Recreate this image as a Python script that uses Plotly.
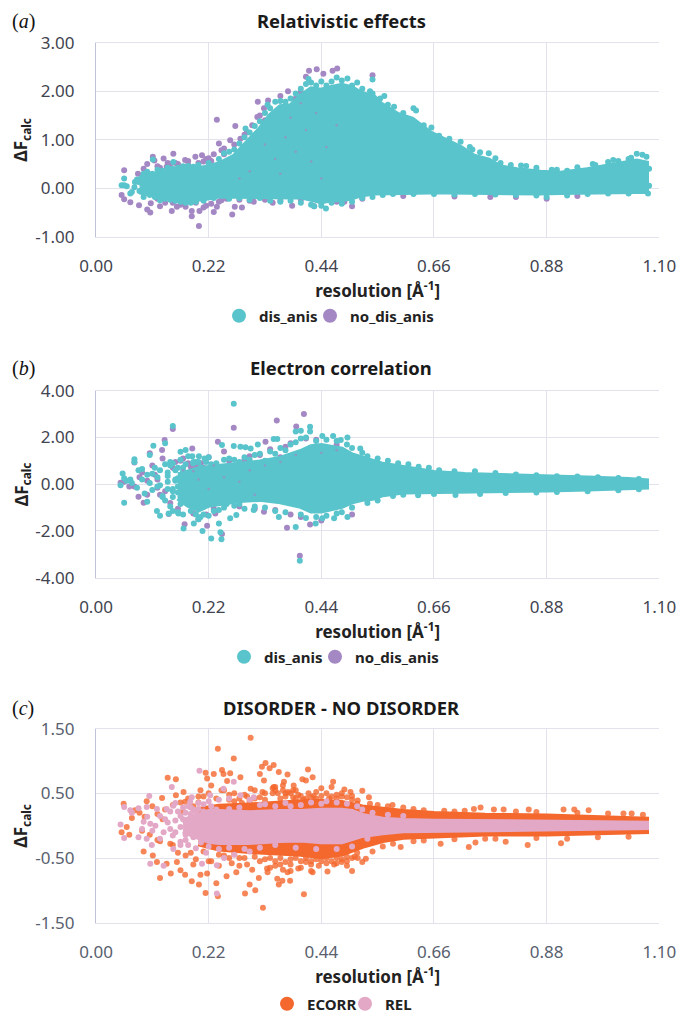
import plotly.graph_objects as go

# ---------- shared ----------
X_TICKS = [0.00, 0.22, 0.44, 0.66, 0.88, 1.10]
TEAL, PURPLE, ORANGE, PINK = "#59C4CB", "#A488C4", "#F4682E", "#E3A8C6"
TICK_COLOR_AB, TICK_COLOR_C = "#3F4450", "#59606E"

# ---------- panel (a): dense core outline + individually read points ----------
a_core_x = [.085,.12,.15,.18,.21,.24,.27,.30,.32,.34,.36,.38,.40,.42,.44,.46,.48,.50,.517,.543,.556,.589,.618,.653,.686,.712,.738,.767,.79,.822,.868,.907,.959,.998,1.03,1.056,1.075]
a_core_hi = [.20,.30,.34,.38,.42,.50,.66,1.00,1.22,1.50,1.68,1.70,1.90,2.05,2.02,2.08,2.12,2.07,1.96,1.88,1.74,1.52,1.42,1.14,.96,.84,.66,.58,.44,.38,.33,.31,.38,.46,.50,.56,.52]
a_core_lo = [-.08,-.14,-.20,-.24,-.22,-.16,-.16,-.18,-.18,-.18,-.18,-.18,-.18,-.24,-.28,-.24,-.24,-.20,-.14,-.10,-.09,-.08,-.08,-.08,-.08,-.08,-.08,-.08,-.08,-.09,-.10,-.09,-.08,-.07,-.07,-.07,-.07]
a_purple = [(.055,.37),(.082,.30),(.093,.40),(.111,.65),(.114,.57),(.132,.61),(.151,.71),(.145,.50),(.174,.58),(.194,.65),(.207,.68),(.236,1.41),(.272,1.28),(.23,.70),(.24,.92),(.262,.99),(.282,1.02),(.295,1.16),(.316,1.78),(.336,1.81),(.328,1.65),(.315,1.47),(.36,1.90),(.416,2.42),(.431,2.45),(.444,2.36),(.462,2.42),(.471,2.47),(.54,2.33)]
a_purple_low = [(.05,-.14),(.055,-.23),(.067,-.29),(.084,-.35),(.10,-.44),(.106,-.50),(.107,-.31),(.125,-.37),(.148,-.47),(.158,-.38),(.187,-.47),(.187,-.58),(.201,-.78),(.202,-.47),(.23,-.49),(.236,-.38),(.266,-.54),(.271,-.38),(.285,-.40),(.308,-.28),(.383,-.36),(.426,-.37),(.50,-.37),(.485,-.28),(.12,-.22),(.135,-.30),(.17,-.30),(.215,-.36),(.245,-.25),(.255,-.22),(.30,-.26),(.345,-.30)]
a_purple_edge = [(.12,.45),(.14,.52),(.16,.50),(.17,.44),(.18,.48),(.19,.40),(.21,.55),(.22,.62),(.25,.82),(.29,1.10),(.33,1.40),(.35,1.55),(.37,1.62),(.39,1.85),(.40,1.98),(.10,.50),(.125,.42),(.138,.44),(.155,.52),(.165,.40),(.18,.56),(.20,.52),(.215,.60),(.225,.56),(.245,.78),(.25,.70),(.27,.90),(.305,1.30),(.32,1.50),(.375,2.00),(.41,2.30),(.15,-.30),(.165,-.34),(.175,-.38),(.195,-.30),(.21,-.40),(.225,-.32),(.24,-.28),(.28,-.24),(.33,-.24),(.36,-.26),(.40,-.24),(.44,-.30),(.47,-.28),(.52,-.22),(.60,-.16),(.70,-.17),(.77,-.18),(.82,-.18),(.88,-.22),(.94,-.16)]
a_purple_specks = [(.38,1.45),(.41,1.20),(.43,1.55),(.37,1.05),(.35,.60),(.30,.35),(.42,.55),(.45,.85),(.33,.90),(.40,1.75),(.39,.75),(.47,1.30),(.28,.20),(.36,.30),(.44,.20)]
a_teal_left = [(.05,.06),(.055,.20),(.055,.06),(.07,-.08),(.076,.13),(.083,.13),(.067,-.11),(.093,-.18),(.093,.30),(.10,.34),(.111,.59),(.125,-.25),(.125,.34),(.151,.54),(.145,.37),(.06,.04),(.09,.10),(.105,.18),(.118,.06),(.13,-.12),(.075,.02),(.08,.18),(.085,-.06),(.09,.22),(.095,-.10),(.10,.25),(.105,-.14),(.11,.30),(.115,-.18),(.12,.38),(.125,-.20),(.13,.36),(.135,-.22),(.14,.42),(.145,-.24),(.15,.40),(.155,-.26),(.16,.42),(.165,-.28),(.17,.45),(.175,-.30),(.18,.46),(.185,-.30),(.19,.44),(.195,-.28),(.20,.48),(.21,-.26),(.22,.52),(.23,-.20),(.24,.60)]
a_teal_top = [(.25,.72),(.26,.75),(.27,.80),(.28,.92),(.29,1.05),(.292,1.23),(.30,1.15),(.31,1.28),(.32,1.38),(.33,1.55),(.335,1.72),(.34,1.65),(.35,1.78),(.36,1.80),(.37,1.78),(.38,1.85),(.39,1.95),(.40,2.05),(.41,2.15),(.415,2.25),(.42,2.18),(.43,2.12),(.44,2.20),(.45,2.12),(.46,2.20),(.47,2.28),(.48,2.22),(.491,2.26),(.50,2.12),(.51,2.18),(.52,2.05),(.535,2.00),(.54,1.95),(.54,2.24),(.555,1.85),(.563,1.90),(.57,1.72),(.582,1.68),(.60,1.55),(.62,1.65),(.625,1.60),(.64,1.30),(.655,1.25),(.67,1.08),(.69,1.02),(.712,.96),(.73,.85),(.735,.80),(.75,.74),(.767,.72),(.78,.62),(.79,.52),(.81,.48),(.83,.47),(.84,.46),(.86,.42),(.89,.38),(.90,.38),(.92,.36),(.94,.43),(.97,.50),(.975,.48),(1.0,.54),(1.01,.58),(1.02,.56),(1.04,.60),(1.045,.63),(1.056,.71),(1.067,.69),(1.075,.65),(1.08,.40),(1.08,.05)]
a_teal_low = [(.426,-.37),(.449,-.42),(.26,-.22),(.28,-.20),(.30,-.24),(.32,-.20),(.34,-.26),(.36,-.28),(.38,-.26),(.40,-.30),(.42,-.34),(.44,-.36),(.46,-.30),(.48,-.32),(.50,-.28),(.52,-.20),(.54,-.18),(.56,-.14),(.58,-.12),(.62,-.12),(.66,-.12),(.70,-.13),(.74,-.12),(.78,-.13),(.82,-.14),(.86,-.15),(.88,-.18),(.92,-.15),(.96,-.12),(1.0,-.11),(1.04,-.11),(1.078,-.11)]

# ---------- panel (b) ----------
b_core_x = [.16,.18,.20,.22,.24,.28,.32,.36,.40,.42,.44,.46,.48,.50,.52,.54,.56,.60,.66,.72,.80,.88,.96,1.04,1.075]
b_core_hi = [.40,.55,.65,.72,.75,.85,.95,1.10,1.40,1.60,1.65,1.60,1.50,1.25,1.10,.95,.85,.72,.50,.42,.35,.30,.26,.20,.14]
b_core_lo = [-.60,-.90,-1.10,-.90,-.80,-.70,-.65,-.75,-.95,-1.15,-1.15,-1.05,-.95,-.75,-.65,-.60,-.45,-.33,-.33,-.30,-.28,-.25,-.20,-.16,-.12]
b_purple = [(.15,2.36),(.269,2.41),(.353,2.72),(.406,3.00),(.391,2.47),(.238,1.82),(.134,1.89),(.129,1.46),(.105,1.32),(.075,.93),(.188,1.53),(.331,1.82),(.373,-1.86),(.398,-3.06),(.418,-1.72),(.246,-2.13),(.217,-1.78),(.173,-1.71),(.093,-.79),(.083,-.54),(.048,.06),(.142,-1.28),(.233,-1.25),(.328,-1.18),(.075,-.10),(.09,.50),(.115,.40),(.125,-.45),(.15,.70),(.165,1.00),(.18,.90),(.195,.80),(.21,.70),(.10,.15),(.055,.10),(.065,-.10),(.37,1.60),(.43,1.90),(.46,1.55),(.30,1.20),(.36,1.15),(.12,.20),(.145,-.80),(.20,-1.50),(.26,1.00),(.44,-1.55),(.50,-1.30),(.085,.30),(.11,.80),(.13,1.10),(.155,.95),(.17,1.10),(.185,.75),(.205,.90),(.22,1.15),(.25,1.40),(.29,1.05),(.32,1.25),(.34,1.50),(.38,1.75),(.41,1.95),(.47,1.70),(.10,-.45),(.12,-.15),(.135,-.30),(.16,-1.05),(.19,-1.25),(.215,-1.30),(.23,-1.05),(.28,-.95),(.31,-1.05),(.35,-1.10),(.38,-1.30),(.40,-1.40)]
b_purple_specks = [(.17,.60),(.19,.55),(.20,.20),(.22,-.20),(.25,.30),(.30,.60),(.33,.80),(.36,.95),(.28,.10),(.39,1.25),(.44,1.35),(.47,1.45),(.31,-.45),(.23,.80)]
b_teal_read = [(.269,3.44),(.15,2.49),(.112,1.65),(.075,1.07),(.075,.95),(.052,.46),(.055,.25),(.067,.20),(.055,-.79),(.048,-.04),(.083,.60),(.105,1.25),(.135,1.75),(.165,1.39),(.175,1.46),(.188,1.20),(.201,1.20),(.212,1.10),(.246,1.68),(.269,1.63),(.282,1.60),(.292,1.58),(.302,1.53),(.316,1.70),(.347,1.93),(.354,1.93),(.39,2.25),(.40,2.29),(.418,2.46),(.418,2.25),(.442,2.06),(.463,2.06),(.478,1.89),(.491,2.00),(.516,1.53),(.119,-1.15),(.125,-1.35),(.142,-1.25),(.161,-1.25),(.171,-1.89),(.191,-1.68),(.208,-2.00),(.225,-2.32),(.245,-2.36),(.243,-2.06),(.24,-1.68),(.204,-1.40),(.262,-1.46),(.274,-1.32),(.308,-1.10),(.357,-1.40),(.39,-1.83),(.398,-3.27),(.429,-1.68),(.442,-1.46),(.465,-1.46),(.491,-1.40)]
b_teal_left = [(.06,.15),(.07,.05),(.08,-.15),(.09,.20),(.095,-.40),(.10,.40),(.105,.05),(.11,-.25),(.115,.70),(.12,.30),(.125,-.05),(.13,-.55),(.135,.85),(.14,.10),(.145,.95),(.15,-.30),(.155,.60),(.16,.25),(.165,1.05),(.17,-.50),(.175,.85),(.18,.10),(.185,-.20),(.19,.95),(.09,.65),(.10,-.75),(.11,.45),(.12,-.10),(.125,.60),(.13,-.50),(.14,-.20),(.145,.80),(.15,-.20),(.155,.20),(.16,-.10),(.165,-.55),(.17,.70),(.175,-.30),(.18,-.20),(.14,.50),(.15,.90),(.16,-.35),(.175,.15),(.135,-.70),(.14,.35),(.145,-.95),(.15,-.55),(.15,-1.15),(.155,.15),(.16,.70),(.16,-1.20),(.165,.30),(.165,-.85),(.17,.55),(.17,-1.30),(.175,-.45),(.18,1.20),(.185,-1.15),(.19,.90),(.195,-1.30),(.20,.95),(.20,-1.50),(.205,.72),(.21,-1.30),(.215,.95),(.22,-1.35),(.225,.85),(.23,-1.15),(.235,.90),(.24,-1.10),(.195,.95),(.21,-.40),(.22,1.15),(.23,.55),(.255,-.85),(.28,-.85)]
b_teal_top = [(.25,1.05),(.26,1.10),(.27,1.05),(.28,.95),(.29,1.15),(.30,1.05),(.31,1.25),(.32,1.30),(.33,1.00),(.34,1.40),(.35,1.30),(.36,1.55),(.37,1.45),(.38,1.70),(.39,1.80),(.40,1.95),(.41,2.00),(.43,1.85),(.45,1.90),(.47,1.85),(.49,1.70),(.50,1.55),(.52,1.35),(.53,1.20),(.55,1.10),(.57,1.00),(.59,.90),(.61,.85),(.63,.75),(.65,.70),(.67,.60),(.70,.55),(.74,.55),(.78,.48),(.82,.42),(.86,.38),(.90,.34),(.94,.33),(.98,.30),(1.02,.26),(1.06,.22)]
b_teal_low = [(.25,-1.00),(.27,-.92),(.29,-1.05),(.31,-.95),(.33,-1.00),(.35,-1.15),(.37,-1.20),(.40,-1.30),(.41,-1.45),(.43,-1.40),(.45,-1.35),(.47,-1.25),(.48,-1.20),(.50,-1.00),(.53,-.80),(.55,-.70),(.58,-.50),(.60,-.45),(.629,-.47),(.66,-.42),(.702,-.46),(.75,-.42),(.80,-.38),(.86,-.36),(.90,-.33),(.96,-.30),(1.02,-.26),(1.06,-.22)]

# ---------- panel (c) ----------
c_orange_core_x = [.20,.24,.30,.36,.40,.44,.48,.52,.56,.60,.66,.76,.88,.96,1.075]
c_orange_core_hi = [.25,.30,.32,.36,.37,.38,.36,.29,.25,.22,.19,.16,.15,.13,.10]
c_orange_core_lo = [-.28,-.36,-.40,-.43,-.44,-.48,-.44,-.32,-.23,-.18,-.15,-.13,-.13,-.11,-.09]
c_pink_core_x = [.17,.19,.22,.24,.30,.36,.40,.44,.48,.50,.52,.56,.60,.66,.88,1.075]
c_pink_core_hi = [.08,.14,.22,.22,.20,.22,.22,.24,.24,.22,.16,.10,.08,.07,.06,.04]
c_pink_core_lo = [-.08,-.15,-.24,-.26,-.26,-.23,-.22,-.25,-.25,-.20,-.15,-.11,-.08,-.06,-.05,-.03]
c_orange_top = [(.302,1.36),(.238,1.19),(.269,1.04),(.331,.97),(.347,.94),(.324,.91),(.339,.89),(.32,.80),(.357,.83),(.374,.79),(.414,.87),(.423,.75),(.403,.72),(.463,.68),(.246,.86),(.214,.82),(.23,.80),(.249,.80),(.262,.81),(.282,.75),(.14,.74),(.156,.72),(.217,.73),(.204,.55),(.225,.62),(.256,.69),(.302,.57),(.328,.70),(.347,.60),(.367,.68),(.386,.62),(.41,.70),(.054,.34),(.076,.24),(.099,.38),(.129,.43),(.171,.52),(.156,.47),(.174,.37),(.52,.54),(.533,.44),(.485,.56),(.497,.52),(.511,.39),(.579,.32),(.12,.18),(.135,.25),(.15,.32),(.165,.36),(.18,.42),(.19,.30),(.20,.36),(.21,.45),(.22,.50),(.235,.42),(.245,.55),(.26,.48),(.27,.38),(.285,.35),(.295,.45),(.31,.42),(.325,.52),(.345,.58),(.355,.50),(.365,.62),(.375,.52),(.385,.44),(.395,.48),(.405,.40),(.415,.50),(.425,.46),(.44,.58),(.455,.42),(.47,.48),(.535,.34),(.55,.32),(.57,.30),(.60,.28),(.62,.26),(.64,.24),(.68,.23),(.70,.22),(.72,.23),(.738,.26),(.751,.28),(.777,.25),(.796,.25),(.82,.22),(.845,.25),(.86,.21),(.913,.25),(.934,.25),(.94,.20),(.962,.24),(1.0,.19),(1.03,.19),(1.046,.19),(1.068,.17)]
c_orange_low = [(.326,-1.27),(.238,-1.09),(.214,-1.04),(.291,-1.05),(.311,-1.00),(.406,-1.06),(.125,-.81),(.146,-.74),(.165,-.69),(.174,-.76),(.187,-.86),(.201,-.91),(.235,-.89),(.204,-.76),(.217,-.74),(.255,-.78),(.274,-.72),(.30,-.91),(.318,-.81),(.357,-.91),(.364,-.85),(.379,-.85),(.374,-.72),(.354,-.82),(.334,-.66),(.452,-.71),(.423,-.72),(.093,-.40),(.111,-.46),(.119,-.56),(.138,-.59),(.158,-.56),(.50,-.70),(.52,-.56),(.527,-.51),(.511,-.50),(.595,-.33),(.728,-.33),(.673,-.28),(.741,-.26),(.843,-.30),(.908,-.27),(.80,-.25),(.125,-.24),(.145,-.28),(.16,-.42),(.175,-.46),(.195,-.52),(.21,-.40),(.225,-.55),(.24,-.62),(.25,-.46),(.265,-.58),(.28,-.50),(.295,-.60),(.305,-.68),(.32,-.55),(.335,-.72),(.35,-.62),(.365,-.68),(.38,-.60),(.395,-.66),(.41,-.56),(.42,-.70),(.435,-.62),(.45,-.58),(.465,-.60),(.48,-.52),(.49,-.62),(.505,-.48),(.54,-.40),(.56,-.32),(.58,-.28),(.62,-.24),(.64,-.23),(.70,-.21),(.76,-.20),(.78,-.20),(.86,-.19),(.92,-.20),(.98,-.18),(1.04,-.17)]
c_orange_far_left = [(.05,-.10),(.06,-.02),(.07,.12),(.065,-.14),(.085,.20),(.09,-.08),(.095,.14),(.105,-.14),(.11,.30),(.12,-.22),(.13,.10),(.15,-.30),(.17,.22),(.185,-.42),(.20,.45),(.19,-.60),(.22,-.55),(.25,.55),(.27,.50),(.29,.48),(.31,.55),(.33,.50),(.35,.60),(.37,.50),(.39,.55),(.43,.52),(.46,.60),(.48,.45),(.50,.40),(.28,-.62),(.34,-.65),(.36,-.60),(.38,-.70),(.40,-.65),(.42,-.60),(.47,-.58),(.49,-.55)]
c_orange_dense = [(.345,.50),(.35,.55),(.36,.42),(.365,.55),(.37,.45),(.38,.50),(.385,.55),(.39,.42),(.40,.46),(.41,.42),(.42,.44),(.43,.42),(.44,.46),(.45,.50),(.46,.45),(.47,.42),(.48,.50),(.49,.44),(.50,.46),(.51,.34),(.34,-.50),(.35,-.55),(.36,-.50),(.37,-.56),(.38,-.52),(.39,-.50),(.40,-.55),(.41,-.50),(.42,-.55),(.43,-.52),(.44,-.55),(.45,-.50),(.46,-.55),(.47,-.50),(.48,-.56),(.49,-.48),(.50,-.50),(.51,-.42),(.26,.40),(.28,.42),(.30,.38),(.32,.44),(.33,.40),(.24,-.45),(.26,-.50),(.27,-.44),(.29,-.50),(.31,-.48),(.33,-.52)]
c_pink_read = [(.202,.85),(.148,.60),(.104,.46),(.055,.29),(.048,.02),(.055,-.19),(.083,-.18),(.106,-.59),(.132,-.62),(.236,-1.05),(.236,-.61),(.207,-.59),(.083,.27),(.099,.29),(.138,.26),(.151,.31),(.187,.44),(.184,.37),(.223,.47),(.249,.57),(.269,.68),(.282,.47),(.308,.44),(.07,.20),(.067,.24),(.093,.06),(.106,.03),(.119,.26),(.116,.00),(.132,-.10),(.099,-.20),(.109,-.30),(.151,-.36)]
c_pink_left = [(.125,.15),(.14,.05),(.16,.22),(.17,.28),(.18,.30),(.19,.25),(.20,.35),(.21,.33),(.22,.38),(.24,.40),(.26,.42),(.30,.40),(.33,.33),(.15,-.15),(.165,-.25),(.18,-.30),(.195,-.35),(.215,-.42),(.25,-.50),(.27,-.45),(.30,-.40),(.52,.25),(.57,.17),(.38,.30),(.42,.36),(.45,.38),(.09,-.05),(.10,.14),(.11,-.08),(.125,-.20),(.135,.10),(.145,-.05),(.155,.08),(.165,-.02),(.175,.06),(.145,.22),(.155,-.10),(.165,.15),(.175,-.14),(.185,.18),(.165,-.30),(.175,.20),(.185,-.12),(.195,.22),(.155,.35),(.17,.10),(.185,.28),(.20,.26),(.21,.22),(.225,.30),(.235,.25),(.26,.26),(.28,.28),(.32,.32),(.35,.30),(.37,.35),(.40,.32),(.44,.34),(.47,.36),(.49,.34),(.51,.30),(.54,.20),(.60,.15),(.175,-.22),(.19,-.18),(.205,-.26),(.22,-.32),(.24,-.36),(.26,-.34),(.29,-.36),(.32,-.34),(.35,-.30),(.39,-.34),(.43,-.36),(.47,-.36),(.50,-.32),(.53,-.20)]

fig = go.Figure()

def band(xs, hi, lo, color, ax):
    fig.add_trace(go.Scatter(x=xs + xs[::-1], y=hi + lo[::-1], mode="lines", fill="toself",
                             fillcolor=color, line=dict(color=color, width=5),
                             xaxis=ax[0], yaxis=ax[1], showlegend=False, hoverinfo="skip"))

def pts(groups, color, ax, opacity=1.0, size=6):
    pairs = [p for g in groups for p in g]
    fig.add_trace(go.Scatter(x=[p[0] for p in pairs], y=[p[1] for p in pairs], mode="markers",
                             marker=dict(color=color, size=size, opacity=opacity),
                             xaxis=ax[0], yaxis=ax[1], showlegend=False, hoverinfo="skip"))

def key(name, color, ax, legend):
    fig.add_trace(go.Scatter(x=[None], y=[None], mode="markers", name=name,
                             marker=dict(color=color, size=14), xaxis=ax[0], yaxis=ax[1], legend=legend))

# (a)
A = ("x", "y")
pts([a_purple, a_purple_low, a_purple_edge], PURPLE, A)
band(a_core_x, a_core_hi, a_core_lo, TEAL, A)
pts([a_teal_left, a_teal_top, a_teal_low], TEAL, A)
pts([a_purple_specks], PURPLE, A, .7, 2.5)
key("dis_anis", TEAL, A, "legend")
key("no_dis_anis", PURPLE, A, "legend4")
# (b)
B = ("x2", "y2")
pts([b_purple], PURPLE, B)
band(b_core_x, b_core_hi, b_core_lo, TEAL, B)
pts([b_teal_read, b_teal_left, b_teal_top, b_teal_low], TEAL, B)
pts([b_purple_specks], PURPLE, B, .7, 2.5)
key("dis_anis", TEAL, B, "legend2")
key("no_dis_anis", PURPLE, B, "legend5")
# (c)
C = ("x3", "y3")
band(c_orange_core_x, c_orange_core_hi, c_orange_core_lo, ORANGE, C)
pts([c_orange_top, c_orange_low, c_orange_far_left, c_orange_dense], ORANGE, C, .8)
band(c_pink_core_x, c_pink_core_hi, c_pink_core_lo, PINK, C)
pts([c_pink_read, c_pink_left], PINK, C)
key("ECORR", ORANGE, C, "legend3")
key("REL", PINK, C, "legend6")

W, H = 680, 1012
SANS = "Noto Sans"
BOLD = dict(family=SANS, size=17, color="#222222", weight=700)
GRID = "#E2E2EC"
LEFT = "#BFC2D8"
panels = [
    dict(s="", top=42.7, bot=236.7, t=[-1, 0, 1, 2, 3], tc=TICK_COLOR_AB, title="Relativistic effects", tag="a", ty=21, lg=[("legend", 219), ("legend4", 310)], ly=316),
    dict(s="2", top=390.7, bot=577.7, t=[-4, -2, 0, 2, 4], tc=TICK_COLOR_AB, title="Electron correlation", tag="b", ty=367, lg=[("legend2", 224), ("legend5", 315)], ly=657),
    dict(s="3", top=728.7, bot=922.7, t=[-1.5, -.5, .5, 1.5], tc=TICK_COLOR_C, title="DISORDER - NO DISORDER", tag="c", ty=707, lg=[("legend3", 267), ("legend6", 345)], ly=1004),
]
layout = dict(width=W, height=H, margin=dict(l=0, r=0, t=0, b=0, autoexpand=False), paper_bgcolor="white", plot_bgcolor="white",
              font=dict(family=SANS), autosize=False)
ann = []
for p in panels:
    s = p["s"]
    layout[f"xaxis{s}"] = dict(domain=[96/W, 659.3/W], range=[0, 1.10], tickmode="array", tickvals=X_TICKS,
        ticktext=[f"{v:.2f}" for v in X_TICKS], anchor=f"y{s}", gridcolor=GRID, gridwidth=1.3, zeroline=False,
        showline=True, linecolor=GRID, linewidth=1.3, mirror=True, ticks="", ticklabelstandoff=14,
        tickfont=dict(family=SANS, size=17, color=p["tc"]),
        title=dict(text="resolution [Å<sup>-1</sup>]", font=BOLD, standoff=5))
    layout[f"yaxis{s}"] = dict(domain=[1 - p["bot"]/H, 1 - p["top"]/H], range=[p["t"][0], p["t"][-1]], tickmode="array",
        tickvals=p["t"], ticktext=[f"{v:.2f}" for v in p["t"]], anchor=f"x{s}", gridcolor=GRID, gridwidth=1.3, zeroline=False,
        showline=True, linecolor=LEFT, linewidth=1.3, ticks="", ticklabelstandoff=17,
        tickfont=dict(family=SANS, size=17, color=p["tc"]))
    ann.append(dict(text="<b>ΔF<sub>calc</sub></b>", xref="paper", yref="paper", x=22/W, y=1 - (p["top"] + p["bot"]) / 2 / H, xanchor="center",
                    yanchor="middle", textangle=-90, showarrow=False, font=dict(family=SANS, size=17, color="#222222")))
    ann.append(dict(text=f"<b>{p['title']}</b>", xref="paper", yref="paper", x=341/W, y=1 - p["ty"]/H, xanchor="center",
                    yanchor="middle", showarrow=False, font=dict(family=SANS, size=18.4, color="#1a1a1a")))
    ann.append(dict(text=f"(<i>{p['tag']}</i>)", xref="paper", yref="paper", x=10/W, y=1 - (p["ty"] + 1)/H, xanchor="left",
                    yanchor="middle", showarrow=False, font=dict(family="Liberation Serif", size=20, color="#111111")))
    for name, lx in p["lg"]:
        layout[name] = dict(orientation="h", x=lx/W, y=1 - p["ly"]/H, xanchor="left", yanchor="middle",
                            font=dict(family=SANS, size=15, color="#222222", weight=700),
                            bgcolor="rgba(0,0,0,0)", itemwidth=30)
layout["annotations"] = ann
fig.update_layout(**layout)
fig.write_html("out.html", config={"displayModeBar": False},
               post_script="document.body.style.margin='0';document.documentElement.style.overflow='hidden';")
